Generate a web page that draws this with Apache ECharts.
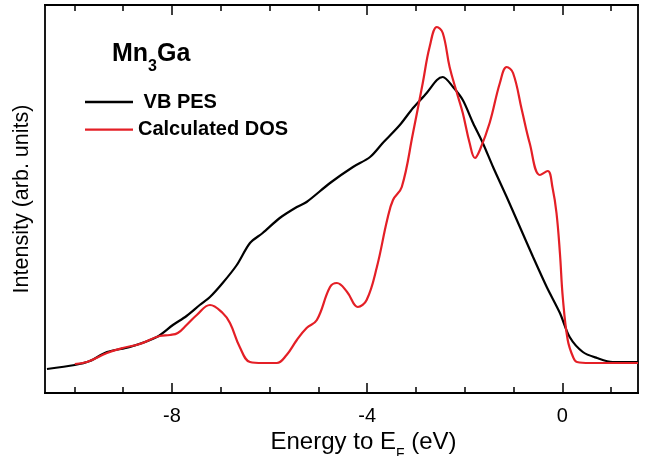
<!DOCTYPE html>
<html>
<head>
<meta charset="utf-8">
<script src="https://cdn.jsdelivr.net/npm/echarts@6/dist/echarts.min.js"></script>
<style>
html,body{margin:0;padding:0;background:#fff;}
#chart{width:647px;height:456px;}
</style>
</head>
<body>
<div id="chart"></div>
<script>
// energy (eV) and intensity, arbitrary units
var pesE=[-10.56,-9.99,-9.68,-9.33,-8.86,-8.31,-7.98,-7.70,-7.43,-7.22,-6.96,-6.67,-6.40,-6.14,-5.79,-5.44,-5.24,-4.76,-4.29,-3.94,-3.68,-3.33,-3.06,-2.78,-2.57,-2.45,-2.24,-2.04,-1.83,-1.63,-1.42,-1.14,-0.87,-0.60,-0.32,-0.05,0.15,0.42,0.71,1.03,1.55];
var pesI=[24,28,32,41,46,56,68,77,88,96,110,128,150,160,175,186,191,210,226,236,250,268,285,300,313,316,306,293,270,250,226,196,166,136,106,80,56,41,35,31,31];

var dosE=[-9.99,-9.74,-9.33,-9.01,-8.66,-8.25,-8.04,-7.88,-7.70,-7.49,-7.22,-6.96,-6.81,-6.61,-6.40,-6.14,-5.85,-5.65,-5.44,-5.24,-5.03,-4.76,-4.62,-4.41,-4.19,-4.01,-3.80,-3.59,-3.47,-3.29,-3.06,-2.86,-2.72,-2.57,-2.45,-2.31,-2.16,-2.04,-1.90,-1.79,-1.69,-1.49,-1.28,-1.14,-1.01,-0.83,-0.67,-0.46,-0.30,-0.20,-0.12,-0.05,0.01,0.11,0.22,0.30,0.56,1.55];
var dosI=[29,31,40,45,49,57,58,60,68,78,88,80,70,46,31,30,30,38,53,65,73,106,110,101,86,93,126,173,193,206,260,310,346,366,360,326,300,280,250,235,243,270,310,326,320,283,250,218,222,205,180,140,95,53,36,31,30,30];

var minorTicks=[-10,-9,-8,-7,-6,-5,-4,-3,-2,-1,0,1];
var majorTicks=[-8,-4,0];

function pairs(xs,ys){
	var out=[];
	for(var i=0;i<xs.length;i++){
		out.push([xs[i],ys[i]]);
	}
	return out;
}

var font='Liberation Sans, Arial, sans-serif';

function xAx(pos,vals,len,labels){
	return {
		type:'value',
		position:pos,
		min:-10.6,
		max:1.55,
		axisLine:{show:true,onZero:false,lineStyle:{color:'#000',width:1.8}},
		splitLine:{show:false},
		axisTick:{show:true,inside:true,length:len,customValues:vals,lineStyle:{color:'#000',width:1.5}},
		axisLabel:labels?{show:true,customValues:vals,fontSize:20,color:'#000',margin:13,fontFamily:font}:{show:false}
	};
}

var bottomMajor=xAx('bottom',majorTicks,10,true);
bottomMajor.name='{a|Energy to E}{s|F}{a| (eV)}';
bottomMajor.nameLocation='middle';
bottomMajor.nameGap=30;
bottomMajor.nameMoveOverlap=false;
bottomMajor.nameTextStyle={
	padding:[0,0,0,44],
	rich:{
		a:{fontSize:24,lineHeight:38,color:'#000',fontFamily:font},
		s:{fontSize:14,lineHeight:14,padding:[24,0,0,0],color:'#000',fontFamily:font}
	}
};

var myChart=echarts.init(document.getElementById('chart'));
var option={
	animation:false,
	backgroundColor:'#fff',
	grid:{left:45,right:9,top:5,bottom:63,outerBoundsMode:'none',containLabel:false,show:true,borderColor:'#000',borderWidth:1.8,backgroundColor:'transparent'},
	legend:{
		orient:'vertical',
		left:80,
		top:87,
		icon:'rect',
		itemWidth:48,
		itemHeight:2.4,
		itemGap:7.6,
		data:['VB PES','Calculated DOS'],
		formatter:function(n){ return n=='VB PES'?' VB PES':n; },
		textStyle:{fontSize:20,fontWeight:'bold',color:'#000',lineHeight:20,fontFamily:font}
	},
	graphic:[{
		type:'text',
		left:112,
		top:33,
		style:{
			text:'{a|Mn}{s|3}{a|Ga}',
			rich:{
				a:{fontSize:25,fontWeight:'bold',lineHeight:42,fill:'#000',fontFamily:font},
				s:{fontSize:16,fontWeight:'bold',lineHeight:16,padding:[26,0,0,0],fill:'#000',fontFamily:font}
			}
		}
	}],
	xAxis:[
		xAx('bottom',minorTicks,6,false),
		bottomMajor,
		xAx('top',minorTicks,6,false),
		xAx('top',majorTicks,10,false)
	],
	yAxis:{
		type:'value',
		min:0,
		max:388,
		axisLine:{show:false},
		axisTick:{show:false},
		axisLabel:{show:false},
		splitLine:{show:false},
		name:'Intensity (arb. units)',
		nameLocation:'middle',
		nameGap:12,
		nameTextStyle:{fontSize:21.5,color:'#000',fontFamily:font}
	},
	series:[
		{
			name:'VB PES',
			type:'line',
			xAxisIndex:0,
			data:pairs(pesE,pesI),
			smooth:0.3,
			showSymbol:false,
			symbol:'none',
			lineStyle:{color:'#000',width:2.2},
			itemStyle:{color:'#000'}
		},
		{
			name:'Calculated DOS',
			type:'line',
			xAxisIndex:0,
			data:pairs(dosE,dosI),
			smooth:0.4,
			showSymbol:false,
			symbol:'none',
			lineStyle:{color:'#e41f26',width:2.2},
			itemStyle:{color:'#e41f26'}
		}
	]
};
myChart.setOption(option);
</script>
</body>
</html>
